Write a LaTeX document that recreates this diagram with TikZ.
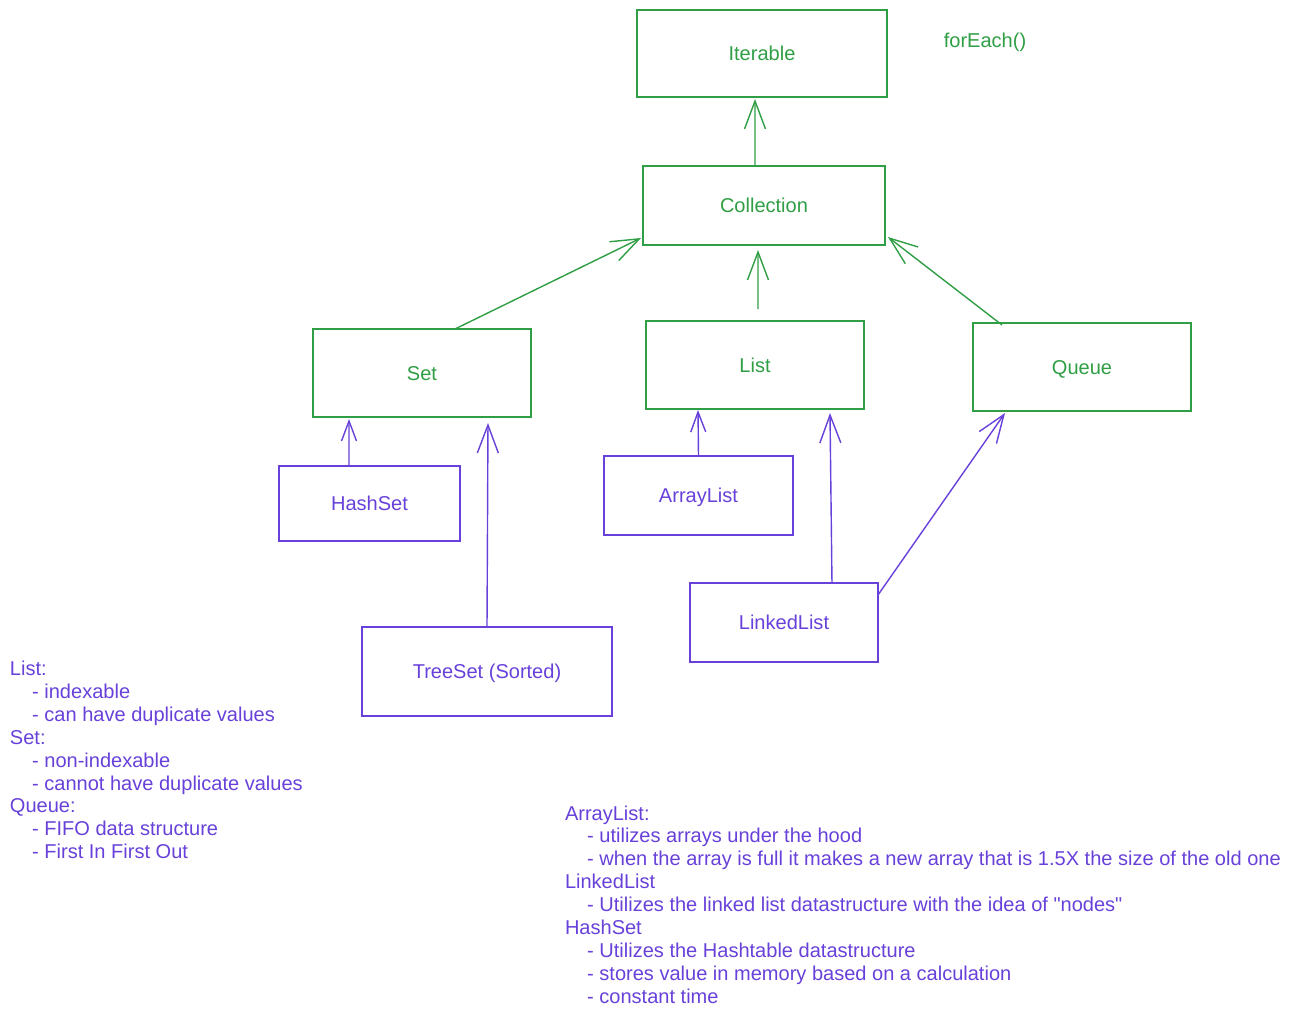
\documentclass[tikz,border=0pt]{standalone}
\usepackage{fontspec}
\setmainfont{Liberation Sans}
\usetikzlibrary{arrows.meta}

\definecolor{boxgreen}{HTML}{2F9E44}
\definecolor{boxviolet}{HTML}{6741D9}
\newcommand{\indentnote}{\hspace*{0.444cm}}

\begin{document}
\begin{tikzpicture}[
		x=0.02cm, y=-0.02cm,
		every node/.style={font=\fontsize{11.4}{13.04}\selectfont, inner sep=0pt, outer sep=0pt},
		box/.style={draw, line width=0.8pt, text height=8.1pt, text depth=0pt, align=center},
		iface/.style={box, draw=boxgreen, text=boxgreen},
		impl/.style={box, draw=boxviolet, text=boxviolet},
		note/.style={align=left, anchor=north west, text=boxviolet},
		arrow/.style={-{Straight Barb[length=5.6mm, width=4.2mm]}, line width=0.8pt},
		short arrow/.style={-{Straight Barb[length=4mm, width=3mm]}, line width=0.8pt}
		]
		
		\useasboundingbox (0,0) rectangle (1289,1018);
		
		% Interfaces
		\node[iface, minimum width=5cm, minimum height=1.74cm] (iterable) at (762,53.5) {Iterable};
		\node[text=boxgreen, text height=8.1pt, text depth=0pt] (foreach) at (985,40) {forEach()};
		\node[iface, minimum width=4.84cm, minimum height=1.58cm] (collection) at (764,205.5) {Collection};
		\node[iface, minimum width=4.36cm, minimum height=1.76cm] (set) at (422,373) {Set};
		\node[iface, minimum width=4.36cm, minimum height=1.76cm] (list) at (755,365) {List};
		\node[iface, minimum width=4.36cm, minimum height=1.76cm] (queue) at (1082,367) {Queue};
		
		% Implementations
		\node[impl, minimum width=3.62cm, minimum height=1.5cm] (hashset) at (369.5,503.5) {HashSet};
		\node[impl, minimum width=3.78cm, minimum height=1.58cm] (arraylist) at (698.5,495.5) {ArrayList};
		\node[impl, minimum width=5cm, minimum height=1.78cm] (treeset) at (487,671.5) {TreeSet (Sorted)};
		\node[impl, minimum width=3.76cm, minimum height=1.58cm] (linkedlist) at (784,622.5) {LinkedList};
		
		% Interface hierarchy
		\draw[arrow, boxgreen] ([xshift=-0.18cm]collection.north) -- ([shift={(-0.14cm,-0.04cm)}]iterable.south);
		\draw[arrow, boxgreen] ([xshift=0.66cm]set.north) -- ([shift={(-0.04cm,0.14cm)}]collection.south west);
		\draw[arrow, boxgreen] ([shift={(0.06cm,0.24cm)}]list.north) -- ([shift={(-0.12cm,-0.1cm)}]collection.south);
		\draw[arrow, boxgreen] ([shift={(0.58cm,-0.04cm)}]queue.north west) -- ([shift={(0.06cm,0.16cm)}]collection.south east);
		
		% Implementations
		\draw[short arrow, boxviolet] ([xshift=-0.41cm]hashset.north) -- ([shift={(-1.46cm,-0.04cm)}]set.south);
		\draw[arrow, boxviolet] (treeset.north) -- ([shift={(1.32cm,-0.12cm)}]set.south);
		\draw[short arrow, boxviolet] (arraylist.north) -- ([shift={(-1.14cm,-0.02cm)}]list.south);
		\draw[arrow, boxviolet] ([xshift=0.96cm]linkedlist.north) -- ([shift={(1.5cm,-0.08cm)}]list.south);
		\draw[arrow, boxviolet] ([yshift=-0.24cm]linkedlist.north east) -- ([shift={(0.64cm,-0.04cm)}]queue.south west);
		
		% Notes
		\node[note] (notesleft) at (10,661) {List:\\
			\indentnote- indexable\\
			\indentnote- can have duplicate values\\
			Set:\\
			\indentnote- non-indexable\\
			\indentnote- cannot have duplicate values\\
			Queue:\\
			\indentnote- FIFO data structure\\
			\indentnote- First In First Out};
		\node[note] (notesright) at (565,805.5) {ArrayList:\\
			\indentnote- utilizes arrays under the hood\\
			\indentnote- when the array is full it makes a new array that is 1.5X the size of the old one\\
			LinkedList\\
			\indentnote- Utilizes the linked list datastructure with the idea of \textquotedbl nodes\textquotedbl\\
			HashSet\\
			\indentnote- Utilizes the Hashtable datastructure\\
			\indentnote- stores value in memory based on a calculation\\
			\indentnote- constant time};
		
	\end{tikzpicture}
\end{document}
